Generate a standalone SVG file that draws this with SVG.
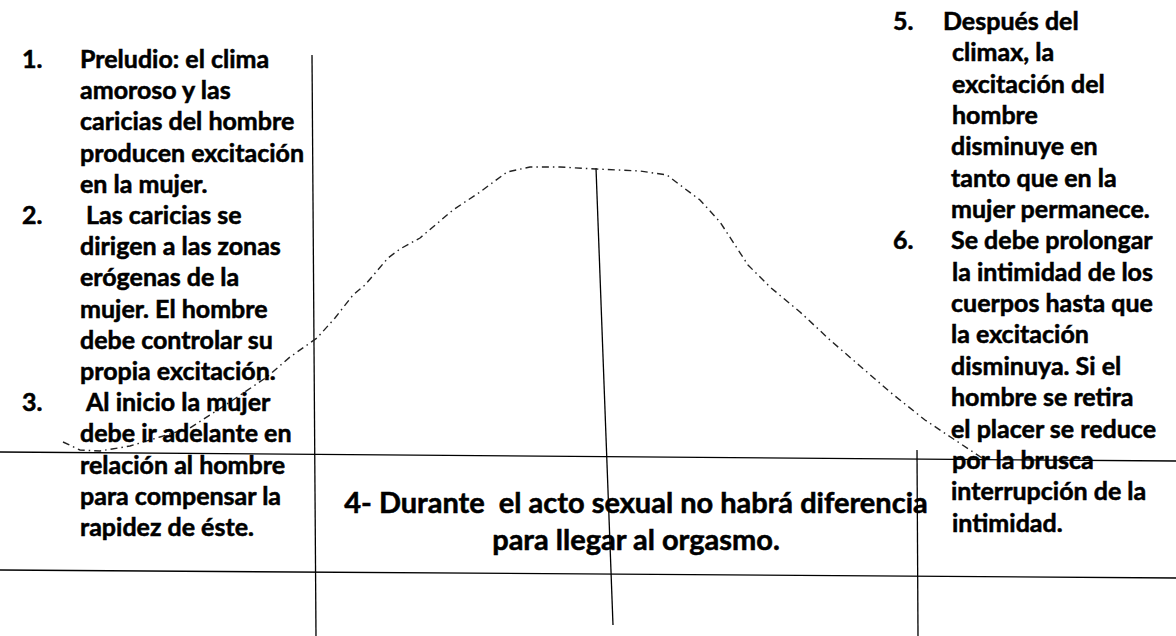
<svg xmlns="http://www.w3.org/2000/svg" width="1176" height="636" viewBox="0 0 1176 636">
<style>
.t{font-family:Lato,"Open Sans","Liberation Sans",sans-serif;font-weight:700;font-size:25px;fill:#000;stroke:#000;stroke-width:0.55}
.c{font-size:29px;text-anchor:middle}
.ln{stroke:#000;stroke-width:1.3;fill:none}
.curve{stroke:#222;stroke-width:1.4;fill:none;stroke-dasharray:7 4 1.5 4}
</style>
<rect width="1176" height="636" fill="#fff"/>
<g id="lines">
<line class="ln" x1="0" y1="452" x2="1176" y2="461"/>
<line class="ln" x1="0" y1="570" x2="1176" y2="578"/>
<line class="ln" x1="312" y1="55" x2="316" y2="636"/>
<line class="ln" x1="596" y1="168" x2="613" y2="625"/>
<line class="ln" x1="917" y1="450" x2="918" y2="636"/>
</g>
<g id="curve">
<path class="curve" d="M63,442 L80,450 L100,451 L130,446 L160,437 L190,428 L233,400 L267,377 L290,357 L317,338 L335,318 L353,295 L365,285 L388,258 L400,249 L420,238 L453,210 L480,192 L507,172 L530,167 L560,167 L596,169 L640,171 L667,175 L680,185 L700,200 L720,222 L748,265 L770,287 L800,312 L830,340 L860,366 L890,392 L925,420 L952,438 L985,460"/>
</g>
<g id="left-text" class="t">
<text x="22" y="68">1.</text><text x="80" y="68">Preludio: el clima</text>
<text x="80" y="99">amoroso y las</text>
<text x="80" y="130">caricias del hombre</text>
<text x="80" y="162">producen excitación</text>
<text x="80" y="193">en la mujer.</text>
<text x="22" y="224">2.</text><text x="86" y="224">Las caricias se</text>
<text x="80" y="255">dirigen a las zonas</text>
<text x="80" y="286">erógenas de la</text>
<text x="80" y="318">mujer. El hombre</text>
<text x="80" y="349">debe controlar su</text>
<text x="80" y="380">propia excitación.</text>
<text x="22" y="411">3.</text><text x="86" y="411">Al inicio la mujer</text>
<text x="80" y="442">debe ir adelante en</text>
<text x="80" y="474">relación al hombre</text>
<text x="80" y="505">para compensar la</text>
<text x="80" y="536">rapidez de éste.</text>
</g>
<g id="right-text" class="t">
<text x="893" y="30">5.</text><text x="943" y="30">Después del</text>
<text x="952" y="61">climax, la</text>
<text x="952" y="93">excitación del</text>
<text x="952" y="124">hombre</text>
<text x="951" y="155">disminuye en</text>
<text x="951" y="187">tanto que en la</text>
<text x="951" y="218">mujer permanece.</text>
<text x="893" y="249">6.</text><text x="951" y="249">Se debe prolongar</text>
<text x="952" y="281">la intimidad de los</text>
<text x="951" y="312">cuerpos hasta que</text>
<text x="951" y="343">la excitación</text>
<text x="951" y="375">disminuya. Si el</text>
<text x="951" y="406">hombre se retira</text>
<text x="951" y="438">el placer se reduce</text>
<text x="952" y="469">por la brusca</text>
<text x="951" y="500">interrupción de la</text>
<text x="952" y="532">intimidad.</text>
</g>
<g id="center-text" class="t c">
<text x="636" y="513" xml:space="preserve">4- Durante  el acto sexual no habrá diferencia</text>
<text x="636" y="550">para llegar al orgasmo.</text>
</g>
</svg>
